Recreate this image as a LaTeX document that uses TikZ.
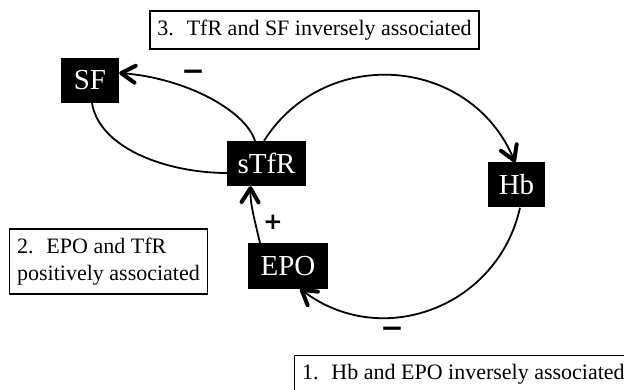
\documentclass[tikz,border=0pt]{standalone}
\usepackage{fontspec}
\setmainfont{Liberation Serif}
\newfontfamily\signfont{DejaVu Sans}
\usetikzlibrary{arrows.meta}
\begin{document}
\begin{tikzpicture}[x=1pt,y=-1pt,
  blk/.style={fill=black,text=white,font=\fontsize{29}{30}\selectfont,minimum height=45pt,inner sep=0pt},
  lbl/.style={draw,line width=1.2pt,font=\fontsize{22}{27}\selectfont,inner xsep=7.5pt,inner ysep=0pt,minimum height=38pt,align=left},
  conn/.style={line width=1.8pt},
  arr/.style={conn,-{Straight Barb[length=14pt,width=17pt,line width=4pt,round]}},
  sign/.style={font=\signfont\bfseries\fontsize{28}{28}\selectfont,inner sep=0pt}]
\useasboundingbox (0,0) rectangle (624,390);
% black nodes
\node[blk,minimum width=58pt] (SF) at (90,80.5) {SF};
\node[blk,minimum width=79pt] (sTfR) at (266.5,163.5) {sTfR};
\node[blk,minimum width=57pt] (Hb) at (516.5,185) {Hb};
\node[blk,minimum width=80pt] (EPO) at (288,266) {EPO};
% label boxes
\node[lbl] (b3) at (314.5,30) {3.~ TfR and SF inversely associated};
\node[lbl,minimum height=65pt] (b2) at (108.5,261.5) {2.~ EPO and TfR\\positively associated};
\node[lbl,anchor=north west] (b1) at (294,355) {1.~ Hb and EPO inversely associated};
% connectors
\draw[arr] ([xshift=-11.5pt]sTfR.north) .. controls (245,110) and (185,78) .. ([yshift=7.5pt]SF.east);
\draw[conn] ([xshift=2pt]SF.south) .. controls (100,150) and (170,173) .. ([yshift=-9.5pt]sTfR.west);
\draw[arr] ([xshift=-2.5pt]sTfR.north) .. controls (325.5,44.2) and (470.6,56.3) .. ([xshift=-1.5pt]Hb.north);
\draw[arr] ([xshift=3.5pt]Hb.south) .. controls (497.9,306.9) and (381.8,350.9) .. ([xshift=12pt]EPO.south);
\draw[arr] ([xshift=-28pt]EPO.north) .. controls (256,225) and (250,205) .. ([xshift=-16pt]sTfR.south);
% signs
\node[sign] (m1) at (193,75) {−};
\node[sign,font=\signfont\bfseries\fontsize{23}{23}\selectfont] (p) at (273,222) {+};
\node[sign] (m2) at (392,332) {−};
\end{tikzpicture}
\end{document}
